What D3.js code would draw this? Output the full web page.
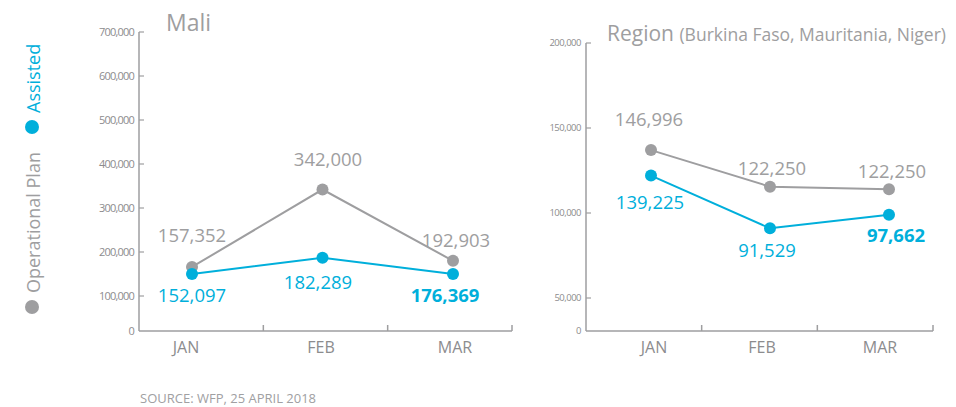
<!DOCTYPE html>
<html>
<head>
<meta charset="utf-8">
<script src="https://cdn.jsdelivr.net/npm/d3@7"></script>
<style>
  body { margin: 0; background: #fff; }
  svg { display: block; font-family: "Open Sans", sans-serif; }
</style>
</head>
<body>
<svg id="chart" width="956" height="407"></svg>
<script>
const months = ["JAN", "FEB", "MAR"];

// values as plotted in the source graphic (points are not drawn exactly at the printed figures)
const maliPlan = [166000, 342000, 180000];
const maliAssisted = [150000, 187000, 150000];
const maliPlanLabels = [157352, 342000, 192903];
const maliAssistedLabels = [152097, 182289, 176369];

const regionPlan = [137000, 115500, 114000];
const regionAssisted = [122000, 91000, 99000];
const regionPlanLabels = [146996, 122250, 122250];
const regionAssistedLabels = [139225, 91529, 97662];

const maliTicks = [0, 100000, 200000, 300000, 400000, 500000, 600000, 700000];
const regionTicks = [0, 50000, 100000, 150000, 200000];

const grey = "#9e9ea0";
const blue = "#00afdb";
const fmt = d3.format(",");

const svg = d3.select("#chart");

function drawPanel(opt) {
    const g = svg.append("g");

    // y axis
    g.append("line")
        .attr("x1", opt.x0).attr("x2", opt.x0)
        .attr("y1", opt.y(opt.ticks[opt.ticks.length - 1])).attr("y2", opt.y(0))
        .attr("stroke", grey).attr("stroke-width", 1.5);
    g.selectAll(".ytick")
        .data(opt.ticks.slice(1))
        .enter().append("line")
        .attr("x1", opt.x0).attr("x2", opt.x0 + 5)
        .attr("y1", d => opt.y(d)).attr("y2", d => opt.y(d))
        .attr("stroke", grey).attr("stroke-width", 1.2);
    g.selectAll(".ylab")
        .data(opt.ticks)
        .enter().append("text")
        .attr("x", opt.x0 - 5)
        .attr("y", d => opt.y(d))
        .attr("dy", "0.35em")
        .attr("text-anchor", "end")
        .attr("font-size", opt.tickSize)
        .attr("letter-spacing", opt.tickSpacing)
        .attr("fill", "#8c8c8e")
        .text(d => fmt(d));

    // x axis with separators
    const band = d3.scaleBand().domain(months).range([opt.x0, opt.x1]);
    g.append("line")
        .attr("x1", opt.x0).attr("x2", opt.x1)
        .attr("y1", opt.y(0)).attr("y2", opt.y(0))
        .attr("stroke", grey).attr("stroke-width", 1.5);
    g.selectAll(".xtick")
        .data(months.slice(1).map(m => band(m)).concat([opt.x1]))
        .enter().append("line")
        .attr("x1", d => d).attr("x2", d => d)
        .attr("y1", opt.y(0)).attr("y2", opt.y(0) - 6)
        .attr("stroke", grey).attr("stroke-width", 1.5);
    g.selectAll(".xlab")
        .data(months)
        .enter().append("text")
        .attr("x", (d, i) => opt.labelX[i])
        .attr("y", opt.y(0) + 22)
        .attr("text-anchor", "middle")
        .attr("font-size", 16)
        .attr("fill", "#8c8c8e")
        .text(d => d);

    const line = d3.line().x((d, i) => opt.x(months[i])).y(d => opt.y(d));

    [[opt.plan, grey], [opt.assisted, blue]].forEach(([vals, col]) => {
        g.append("path")
            .attr("d", line(vals))
            .attr("fill", "none")
            .attr("stroke", col)
            .attr("stroke-width", 2);
        g.selectAll(null)
            .data(vals)
            .enter().append("circle")
            .attr("cx", (d, i) => opt.x(months[i]))
            .attr("cy", d => opt.y(d))
            .attr("r", 6)
            .attr("fill", col);
    });

    // value labels
    opt.planLabels.forEach((v, i) => {
        g.append("text")
            .attr("x", opt.planPos[i][0]).attr("y", opt.planPos[i][1])
            .attr("text-anchor", "middle")
            .attr("font-size", 18.5)
            .attr("fill", grey)
            .text(fmt(v));
    });
    opt.assistedLabels.forEach((v, i) => {
        g.append("text")
            .attr("x", opt.assistedPos[i][0]).attr("y", opt.assistedPos[i][1])
            .attr("text-anchor", "middle")
            .attr("font-size", 18.5)
            .attr("font-weight", i === 2 ? 700 : 400)
            .attr("fill", blue)
            .text(fmt(v));
    });
}

drawPanel({
    x0: 139, x1: 512,
    y: d3.scaleLinear().domain([0, 100000, 700000]).range([331, 296, 32]),
    x: d3.scalePoint().domain(months).range([192, 453]),
    ticks: maliTicks,
    tickSize: 11, tickSpacing: -0.8,
    labelX: [186, 321, 455],
    plan: maliPlan, assisted: maliAssisted,
    planLabels: maliPlanLabels, assistedLabels: maliAssistedLabels,
    planPos: [[192, 242], [328, 166], [456, 247]],
    assistedPos: [[192, 302], [318, 289], [445, 302]]
});

drawPanel({
    x0: 586, x1: 933,
    y: d3.scaleLinear().domain([0, 50000, 200000]).range([331, 298, 43]),
    x: d3.scalePoint().domain(months).range([651, 889]),
    ticks: regionTicks,
    tickSize: 9.5, tickSpacing: -0.5,
    labelX: [654, 762, 880],
    plan: regionPlan, assisted: regionAssisted,
    planLabels: regionPlanLabels, assistedLabels: regionAssistedLabels,
    planPos: [[649, 126], [772, 175], [892, 178]],
    assistedPos: [[650, 209], [767, 257], [896, 242]]
});

// titles
svg.append("text")
    .attr("x", 166).attr("y", 31)
    .attr("font-size", 23)
    .attr("fill", grey)
    .text("Mali");

const rt = svg.append("text")
    .attr("x", 607).attr("y", 41)
    .attr("fill", grey);
rt.append("tspan").attr("font-size", 21).text("Region ");
rt.append("tspan").attr("font-size", 17.5).text("(Burkina Faso, Mauritania, Niger)");

// vertical legend
const legend = svg.append("g").attr("transform", "translate(40,0) rotate(-90)");
legend.append("text")
    .attr("x", -293).attr("y", 0)
    .attr("font-size", 18)
    .attr("fill", grey)
    .text("Operational Plan");
legend.append("text")
    .attr("x", -113).attr("y", 0)
    .attr("font-size", 18)
    .attr("fill", blue)
    .text("Assisted");
svg.append("circle").attr("cx", 32).attr("cy", 307).attr("r", 7).attr("fill", grey);
svg.append("circle").attr("cx", 32).attr("cy", 127).attr("r", 7).attr("fill", blue);

// source
svg.append("text")
    .attr("x", 140).attr("y", 403)
    .attr("font-size", 13)
    .attr("fill", "#a0a0a2")
    .text("SOURCE: WFP, 25 APRIL 2018");
</script>
</body>
</html>
